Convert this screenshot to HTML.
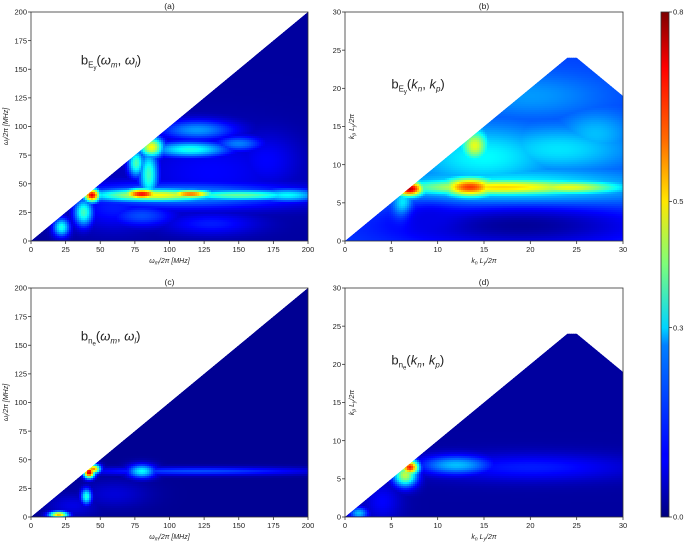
<!DOCTYPE html>
<html><head><meta charset="utf-8"><style>
body{margin:0;background:#fff}
svg{display:block;font-family:"Liberation Sans","DejaVu Sans",sans-serif}
</style></head><body>
<svg id="fig" width="685" height="542" viewBox="0 0 685 542">
<defs>
<linearGradient id="jet" x1="0" y1="1" x2="0" y2="0">
<stop offset="0" stop-color="#00007f"/><stop offset="0.11" stop-color="#0000ff"/>
<stop offset="0.125" stop-color="#0000ff"/><stop offset="0.34" stop-color="#0080ff"/>
<stop offset="0.375" stop-color="#00d4ff"/><stop offset="0.5" stop-color="#7dff7a"/>
<stop offset="0.625" stop-color="#ffe600"/><stop offset="0.75" stop-color="#ff6800"/>
<stop offset="0.89" stop-color="#ff0000"/><stop offset="1" stop-color="#7f0000"/>
</linearGradient>
</defs>
</svg>
<script>
const NS="http://www.w3.org/2000/svg";
const svg=document.getElementById('fig');
// ---- data ----
const freqTicks=[0,25,50,75,100,125,150,175,200];
const waveTicks=[0,5,10,15,20,25,30];
const cbarTicks=[0.0,0.3,0.5,0.8];
const cbarLabels=["0.0","0.3","0.5","0.8"];
// blobs: [x, y, rx, ry, value]
const blobsA=[[130,60,60,35,0.1],[60,30,30,20,0.12],[110,40,90,12,0.22],[90,40,50,6,0.5],[150,40,50,5,0.38],[185,40,25,6,0.3],[44,40,6,6,0.72],[80,41,14,5,0.7],[115,41,18,4,0.62],[85,58,7,22,0.35],[87,82,9,9,0.5],[76,68,6,12,0.36],[115,80,28,7,0.32],[150,85,18,7,0.2],[120,97,28,9,0.22],[22,12,6,8,0.32],[38,25,7,12,0.35],[80,22,25,10,0.16],[130,15,35,10,0.12],[170,70,25,25,0.1]];
const blobsB=[[18,7,14,2.5,0.32],[17,7,11,1.1,0.55],[13.5,7,3,1.3,0.68],[7,6.8,1.5,1,0.78],[24,7,6,0.9,0.5],[15,11,8,4,0.3],[23,12,8,3,0.28],[14,12.5,1.5,2,0.48],[27,14,4,3,0.25],[6.3,4.5,1,1.8,0.38],[20,19,8,3,0.22]];
const darkB=[[19,2,13,2.8,0.02],[9,3,3,2,0.08]];
const blobsC=[[30,10,18,10,0.08],[60,20,25,12,0.07],[120,40,85,3.5,0.16],[80,40,10,6,0.3],[40,18,4,7,0.33],[20,2,7,3,0.55],[45,42,5,4,0.6],[42,39,4,5,0.75]];
const blobsD=[[20,6.5,11,1.8,0.12],[12,6.8,4,1.3,0.25],[6.5,5.5,1.3,1.5,0.45],[7,6.5,1,1,0.68],[1.5,0.5,1,0.8,0.25],[4,2,2,2.5,0.1]];
const baseVals={a:0.025,b:0.15,c:0.015,d:0.025};
// ---- helpers ----
function jet(v){const t=Math.max(0,Math.min(1,v/0.8));const c=x=>Math.round(255*Math.max(0,Math.min(1,1.5-Math.abs(4*t-x))));return `rgb(${c(3)},${c(2)},${c(1)})`;}
function el(tag,attrs,parent){const e=document.createElementNS(NS,tag);for(const k in attrs)e.setAttribute(k,attrs[k]);(parent||svg).appendChild(e);return e;}
function txt(s,x,y,size,anchor,parent){const t=el('text',{x:x,y:y,'font-size':size,'text-anchor':anchor||'middle',fill:'#222'},parent);t.innerHTML=s;return t;}
function field(x,y,base,blobs,dark){
  let v=base;
  blobs.forEach(b=>{const g=Math.exp(-(((x-b[0])/b[2])**2+((y-b[1])/b[3])**2));v=Math.max(v,base+(b[4]-base)*g);});
  (dark||[]).forEach(b=>{const g=Math.exp(-(((x-b[0])/b[2])**2+((y-b[1])/b[3])**2));v=v+(b[4]-v)*g;});
  return v;
}
function panel(id,x0,y0,x1,y1,xmax,ymax,ticksX,ticksY,shape,blobs,dark,title,xlab,ylab,annot){
  const sx=v=>x0+(x1-x0)*v/xmax, sy=v=>y1-(y1-y0)*v/ymax;
  const g=el('g',{});
  
  
  const pts=shape.map(p=>sx(p[0])+','+sy(p[1])).join(' ');
  const cp=el('clipPath',{id:'clip'+id},g);el('polygon',{points:pts},cp);
  const hg=el('g',{'clip-path':'url(#clip'+id+')','shape-rendering':'crispEdges'},g);
  
  
  const cs=2;
  for(let px=x0;px<x1;px+=cs){for(let py=y0;py<y1;py+=cs){
    const dx=(px+cs/2-x0)/(x1-x0)*xmax, dy=(y1-(py+cs/2))/(y1-y0)*ymax;
    if(dy>dx+ymax*0.03)continue;
    el('rect',{x:px,y:py,width:cs+0.5,height:cs+0.5,fill:jet(field(dx,dy,baseVals[id],blobs,dark))},hg);
  }}
  const fr=el('rect',{x:x0,y:y0,width:x1-x0,height:y1-y0,fill:'none',stroke:'#333','stroke-width':0.8},g);
  
  
  ticksX.forEach(v=>{el('line',{x1:sx(v),x2:sx(v),y1:y1,y2:y1+3,stroke:'#333','stroke-width':0.8},g);txt(String(v),sx(v),y1+11,7.5,'middle',g);});
  ticksY.forEach(v=>{el('line',{x1:x0-3,x2:x0,y1:sy(v),y2:sy(v),stroke:'#333','stroke-width':0.8},g);txt(String(v),x0-4,sy(v)+2.7,7.5,'end',g);});
  const t=txt(title,(x0+x1)/2,y0-3,8.5,'middle',g);
  
  
  const xl=txt(xlab,(x0+x1)/2,y1+22,7,'middle',g);
  
  
  const yl=el('text',{x:0,y:0,'font-size':7,'text-anchor':'middle',fill:'#222',transform:`translate(${id==='a'||id==='c'?8:354},${(y0+y1)/2}) rotate(-90)`},g);yl.innerHTML=ylab;
  
  
  const an=txt(annot[0],sx(annot[1]),sy(annot[2]),13,'start',g);
  
  
}
const tri=[[0,0],[200,200],[200,0]];
const tri2=[[0,0],[24,24],[25,24],[30,19],[30,0]];
const fx='<tspan font-style="italic">ω<tspan font-size="5" dy="1.5">m</tspan><tspan dy="-1.5">/2π</tspan></tspan>  <tspan font-style="italic">[MHz]</tspan>';
const fy='<tspan font-style="italic">ω<tspan font-size="5" dy="1.5">l</tspan><tspan dy="-1.5">/2π</tspan>  [MHz]</tspan>';
const kx='<tspan font-style="italic">k<tspan font-size="5" dy="1.5">n</tspan><tspan dy="-1.5"> L</tspan><tspan font-size="5" dy="1.5">y</tspan><tspan dy="-1.5">/2π</tspan></tspan>';
const ky='<tspan font-style="italic">k<tspan font-size="5" dy="1.5">p</tspan><tspan dy="-1.5"> L</tspan><tspan font-size="5" dy="1.5">y</tspan><tspan dy="-1.5">/2π</tspan></tspan>';
const bE='b<tspan font-size="8" dy="3">E<tspan font-size="6" dy="2">y</tspan></tspan><tspan dy="-5">(</tspan>';
const bN='b<tspan font-size="8" dy="3">n<tspan font-size="6" dy="2">e</tspan></tspan><tspan dy="-5">(</tspan>';
const wml='<tspan font-style="italic">ω</tspan><tspan font-size="8" font-style="italic" dy="3">m</tspan><tspan dy="-3">, </tspan><tspan font-style="italic">ω</tspan><tspan font-size="8" font-style="italic" dy="3">l</tspan><tspan dy="-3">)</tspan>';
const knp='<tspan font-style="italic">k</tspan><tspan font-size="8" font-style="italic" dy="3">n</tspan><tspan dy="-3">, </tspan><tspan font-style="italic">k</tspan><tspan font-size="8" font-style="italic" dy="3">p</tspan><tspan dy="-3">)</tspan>';
panel('a',31,12,308,241,200,200,freqTicks,freqTicks,tri,blobsA,null,'(a)',fx,fy,[bE+wml,36,154]);
panel('b',345,12,623,241,30,30,waveTicks,waveTicks,tri2,blobsB,darkB,'(b)',kx,ky,[bE+knp,5,20]);
panel('c',31,288,308,517,200,200,freqTicks,freqTicks,tri,blobsC,null,'(c)',fx,fy,[bN+wml,36,154]);
panel('d',345,288,623,517,30,30,waveTicks,waveTicks,tri2,blobsD,null,'(d)',kx,ky,[bN+knp,5,20]);
// colorbar
const cb=el('rect',{x:661,y:12,width:8,height:505,fill:'url(#jet)',stroke:'#333','stroke-width':0.8});


cbarTicks.forEach((v,i)=>{const y=517-505*v/0.8;el('line',{x1:669,x2:672,y1:y,y2:y,stroke:'#333','stroke-width':0.8});txt(cbarLabels[i],673,y+2.7,7.5,'start');});
</script>
</body></html>
